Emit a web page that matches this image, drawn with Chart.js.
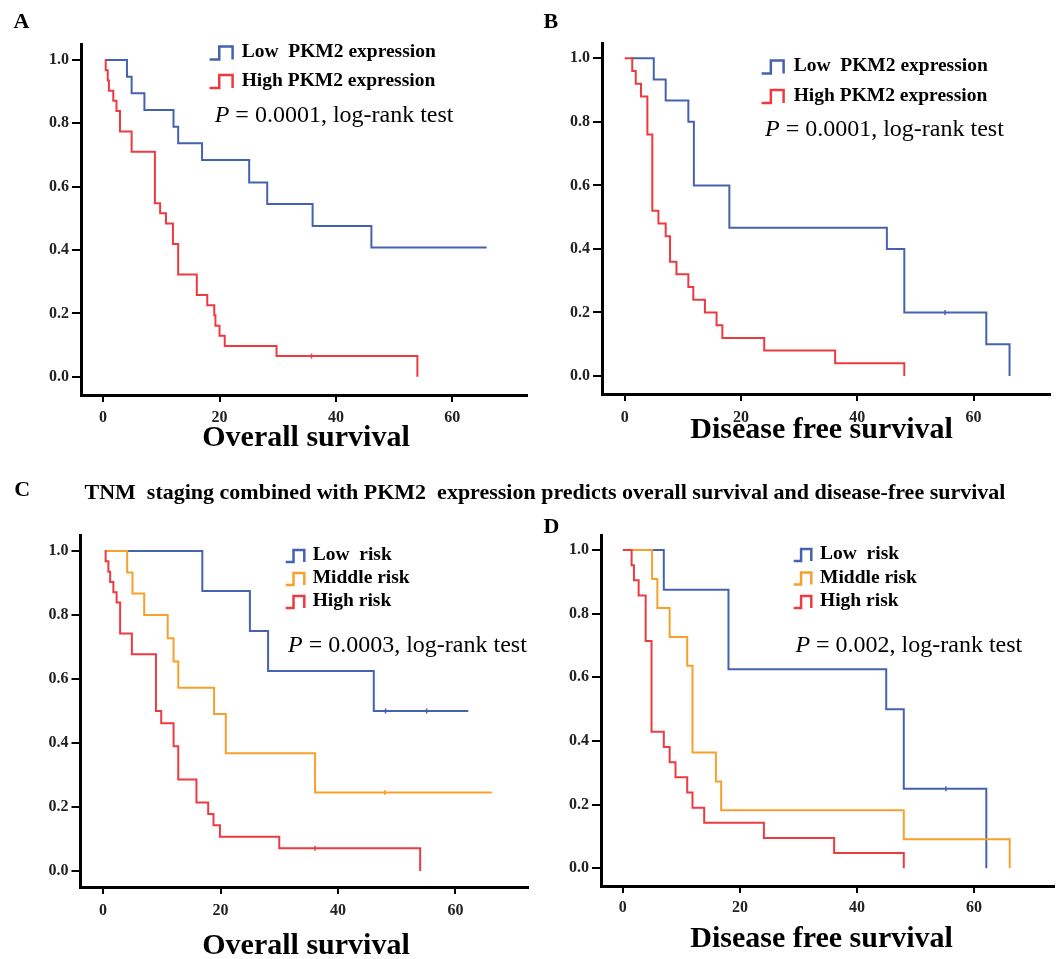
<!DOCTYPE html>
<html>
<head>
<meta charset="utf-8">
<script src="https://cdn.jsdelivr.net/npm/chart.js@4.4.3/dist/chart.umd.min.js"></script>
<style>
  html, body { margin: 0; padding: 0; background: #fff; }
  #page { position: relative; width: 1059px; height: 959px; overflow: hidden; }
  #page canvas { position: absolute; left: 0; top: 0; }
</style>
</head>
<body>
<div id="page">
  <canvas id="chartA" width="1059" height="959"></canvas>
  <canvas id="chartB" width="1059" height="959"></canvas>
  <canvas id="chartC" width="1059" height="959"></canvas>
  <canvas id="chartD" width="1059" height="959"></canvas>
</div>
<script>
const SERIF = '"Liberation Serif", "Times New Roman", serif'
const BLUE = '#4462ae'
const RED = '#ec3a41'
const ORANGE = '#f7a12c'

// Tick labels shared by the four panels.
const xTicks = [0, 20, 40, 60]
const yTicks = [0, 0.2, 0.4, 0.6, 0.8, 1.0]

// A: overall survival by PKM2 expression.
const aLowTime = [0.3, 4.1, 4.9, 7.1, 12.1, 12.9, 17.0, 25.1, 28.2, 36.0, 46.1, 65.9]
const aLowSurv = [1, 0.947, 0.895, 0.842, 0.789, 0.737, 0.684, 0.613, 0.545, 0.476, 0.408, 0.408]
const aHighTime = [0.33, 0.45, 0.8, 1.0, 1.75, 2.3, 2.9, 4.9, 8.9, 9.8, 10.8, 12.0, 12.9, 16.1, 17.9, 19.1, 19.3, 20.0, 20.9, 29.8, 54.0]
const aHighSurv = [1, 0.968, 0.935, 0.903, 0.871, 0.839, 0.774, 0.710, 0.548, 0.516, 0.484, 0.419, 0.323, 0.258, 0.226, 0.194, 0.161, 0.129, 0.097, 0.065, 0]
const aHighCensor = [35.8]

// B: disease free survival by PKM2 expression.
const bLowTime = [1.2, 5.0, 7.05, 10.95, 11.9, 18.0, 45.1, 48.1, 62.2, 66.2]
const bLowSurv = [1, 0.933, 0.867, 0.8, 0.6, 0.467, 0.4, 0.2, 0.1, 0]
const bLowCensor = [55.1]
const bHighTime = [0, 1.3, 1.9, 2.8, 3.9, 4.75, 5.8, 7.05, 7.8, 8.9, 10.95, 11.8, 13.8, 15.8, 16.8, 24.0, 36.2, 48.1]
const bHighSurv = [1, 0.96, 0.92, 0.88, 0.76, 0.52, 0.48, 0.44, 0.36, 0.32, 0.28, 0.24, 0.20, 0.16, 0.12, 0.08, 0.04, 0]

// C: overall survival by combined risk group.
const cLowTime = [0.3, 16.9, 25.0, 28.1, 46.1, 62.2]
const cLowSurv = [1, 0.875, 0.75, 0.625, 0.5, 0.5]
const cLowCensor = [48.1, 55.1]
const cMidTime = [0.32, 4.1, 5.0, 7.0, 11.0, 12.0, 12.8, 18.9, 20.9, 36.1, 66.2]
const cMidSurv = [1, 0.933, 0.867, 0.8, 0.727, 0.655, 0.573, 0.491, 0.368, 0.245, 0.245]
const cMidCensor = [48.0]
const cHighTime = [0.32, 0.43, 0.9, 1.2, 1.75, 2.3, 2.9, 4.9, 9.0, 9.9, 12.0, 12.8, 15.9, 17.9, 18.8, 19.9, 30.0, 54.0]
const cHighSurv = [1, 0.968, 0.935, 0.903, 0.871, 0.839, 0.742, 0.677, 0.5, 0.462, 0.39, 0.286, 0.214, 0.178, 0.143, 0.107, 0.071, 0]
const cHighCensor = [36.1]

// D: disease free survival by combined risk group.
const dLowTime = [0.3, 7.0, 18.05, 45.0, 48.0, 62.1]
const dLowSurv = [1, 0.875, 0.625, 0.5, 0.25, 0]
const dLowCensor = [55.2]
const dMidTime = [0, 5.0, 5.9, 8.0, 11.0, 11.9, 15.9, 16.8, 48.0, 66.1]
const dMidSurv = [1, 0.909, 0.818, 0.727, 0.636, 0.364, 0.273, 0.182, 0.091, 0]
const dHighTime = [0, 1.5, 1.9, 2.7, 3.9, 4.9, 7.0, 8.0, 9.0, 11.0, 11.9, 13.9, 24.1, 36.1, 48.0]
const dHighSurv = [1, 0.952, 0.905, 0.857, 0.714, 0.429, 0.381, 0.333, 0.286, 0.238, 0.19, 0.143, 0.095, 0.048, 0]

const mainTitle = 'TNM  staging combined with PKM2  expression predicts overall survival and disease-free survival'

// Step curve dataset, horizontal first then drop at each event time.
function curve(label, color, times, surv, order) {
  return {
    label,
    inLegend: true,
    showLine: true,
    stepped: 'before',
    borderColor: color,
    backgroundColor: color,
    borderWidth: 2,
    pointRadius: 0,
    fill: false,
    order,
    data: times.map((t, i) => ({ x: t, y: surv[i] }))
  }
}

// Censor ticks sit on the curve level at the censored time.
function censor(color, times, curveTimes, curveSurv) {
  return {
    showLine: false,
    pointStyle: 'line',
    rotation: 90,
    pointRadius: 2.5,
    borderWidth: 1.5,
    borderColor: color,
    order: -1,
    data: times.map(t => {
      let s = curveSurv[0]
      curveTimes.forEach((ct, i) => { if (ct <= t) s = curveSurv[i] })
      return { x: t, y: s }
    })
  }
}

function drawIcon(ctx, x, y, w, h, color) {
  const top = y - h / 2
  const bottom = y + h / 2
  ctx.strokeStyle = color
  ctx.lineWidth = 2.5
  ctx.beginPath()
  ctx.moveTo(x, bottom)
  ctx.lineTo(x + w * 0.42, bottom)
  ctx.lineTo(x + w * 0.42, top)
  ctx.lineTo(x + w, top)
  ctx.lineTo(x + w, bottom)
  ctx.stroke()
}

// Draws panel letter, legend, p value line and axis title.
const panelText = {
  id: 'panelText',
  afterDraw(chart, args, opts) {
    const ctx = chart.ctx
    ctx.save()
    ctx.fillStyle = '#000'
    ctx.textBaseline = 'middle'
    ctx.textAlign = 'left'

    ctx.font = `bold 22px ${SERIF}`
    ctx.fillText(opts.letter, opts.letterPos[0], opts.letterPos[1])

    if (opts.heading) {
      ctx.font = `bold 22px ${SERIF}`
      ctx.fillText(opts.heading.text, opts.heading.x, opts.heading.y)
    }

    const lg = opts.legend
    chart.data.datasets.filter(d => d.inLegend).forEach((d, i) => {
      const y = lg.y + i * lg.gap
      drawIcon(ctx, lg.x, y + 1, lg.iconW, lg.iconH, d.borderColor)
      ctx.font = `bold 19.5px ${SERIF}`
      ctx.fillStyle = '#000'
      ctx.fillText(d.label, lg.textX, y)
    })

    ctx.font = `italic 24px ${SERIF}`
    ctx.fillText('P', opts.pPos[0], opts.pPos[1])
    const w = ctx.measureText('P').width
    ctx.font = `24px ${SERIF}`
    ctx.fillText(` = ${opts.p}, log-rank test`, opts.pPos[0] + w, opts.pPos[1])

    ctx.font = `bold 30px ${SERIF}`
    ctx.textAlign = 'center'
    ctx.fillText(opts.title.text, opts.title.x, opts.title.y)
    ctx.restore()
  }
}

const Y_AXIS_W = 40
const X_AXIS_H = 30

const panels = [
  {
    id: 'chartA',
    area: { l: 81, t: 44, r: 527, b: 395 },
    anchor: { x0: 103.1, x60: 452.3, y0: 376.7, y1: 60 },
    xPad: 6,
    text: {
      letter: 'A', letterPos: [13.5, 22.5],
      legend: { x: 209.6, textX: 241.7, y: 52, gap: 28.5, iconW: 23, iconH: 13 },
      pPos: [214.7, 115.3], p: '0.0001',
      title: { text: 'Overall survival', x: 306, y: 438 }
    },
    datasets: [
      curve('Low  PKM2 expression', BLUE, aLowTime, aLowSurv, 2),
      curve('High PKM2 expression', RED, aHighTime, aHighSurv, 0),
      censor(RED, aHighCensor, aHighTime, aHighSurv)
    ]
  },
  {
    id: 'chartB',
    area: { l: 602, t: 43, r: 1050, b: 394 },
    anchor: { x0: 624.7, x60: 973.5, y0: 376, y1: 58.3 },
    xPad: 7.5,
    text: {
      letter: 'B', letterPos: [543.5, 22],
      legend: { x: 761.6, textX: 793.7, y: 66, gap: 29.5, iconW: 22, iconH: 13 },
      pPos: [765, 129.5], p: '0.0001',
      title: { text: 'Disease free survival', x: 821.6, y: 430 }
    },
    datasets: [
      curve('Low  PKM2 expression', BLUE, bLowTime, bLowSurv, 2),
      curve('High PKM2 expression', RED, bHighTime, bHighSurv, 0),
      censor(BLUE, bLowCensor, bLowTime, bLowSurv)
    ]
  },
  {
    id: 'chartC',
    area: { l: 80.5, t: 535, r: 528, b: 887 },
    anchor: { x0: 103.1, x60: 455.4, y0: 871, y1: 551 },
    xPad: 7.5,
    text: {
      letter: 'C', letterPos: [14.2, 490.8],
      heading: { text: mainTitle, x: 84.5, y: 493 },
      legend: { x: 285.7, textX: 312.7, y: 555, gap: 23, iconW: 18.6, iconH: 12 },
      pPos: [288, 646], p: '0.0003',
      title: { text: 'Overall survival', x: 306, y: 946.7 }
    },
    datasets: [
      curve('Low  risk', BLUE, cLowTime, cLowSurv, 2),
      curve('Middle risk', ORANGE, cMidTime, cMidSurv, 1),
      curve('High risk', RED, cHighTime, cHighSurv, 0),
      censor(BLUE, cLowCensor, cLowTime, cLowSurv),
      censor(ORANGE, cMidCensor, cMidTime, cMidSurv),
      censor(RED, cHighCensor, cHighTime, cHighSurv)
    ]
  },
  {
    id: 'chartD',
    area: { l: 601, t: 535, r: 1057, b: 886 },
    anchor: { x0: 623, x60: 976.9, y0: 868.3, y1: 550 },
    xPad: 5.5,
    text: {
      letter: 'D', letterPos: [543.5, 527.5],
      legend: { x: 793.7, textX: 820, y: 554, gap: 23.5, iconW: 17.6, iconH: 12 },
      pPos: [795.4, 646], p: '0.002',
      title: { text: 'Disease free survival', x: 821.6, y: 939 }
    },
    datasets: [
      curve('Low  risk', BLUE, dLowTime, dLowSurv, 2),
      curve('Middle risk', ORANGE, dMidTime, dMidSurv, 1),
      curve('High risk', RED, dHighTime, dHighSurv, 0),
      censor(BLUE, dLowCensor, dLowTime, dLowSurv)
    ]
  }
]

const tickFont = { family: SERIF, size: 16, weight: 'bold' }

panels.forEach(panel => {

  const { area, anchor } = panel

  // Axis ranges so that the tick anchors land on the reference pixels.
  const xUnit = (anchor.x60 - anchor.x0) / 60
  const yUnit = anchor.y0 - anchor.y1

  new Chart(document.getElementById(panel.id), {
    type: 'scatter',
    data: { datasets: panel.datasets },
    plugins: [panelText],
    options: {
      responsive: false,
      animation: false,
      layout: {
        padding: {
          left: area.l - Y_AXIS_W,
          top: area.t,
          right: 1059 - area.r,
          bottom: 959 - area.b - X_AXIS_H
        }
      },
      plugins: {
        legend: { display: false },
        tooltip: { enabled: false },
        panelText: panel.text
      },
      scales: {
        x: {
          type: 'linear',
          min: (area.l - anchor.x0) / xUnit,
          max: (area.r - anchor.x0) / xUnit,
          afterBuildTicks: s => { s.ticks = xTicks.map(v => ({ value: v })) },
          afterFit: s => { s.height = X_AXIS_H },
          border: { display: true, color: '#000', width: 3 },
          grid: { drawOnChartArea: false, drawTicks: true, tickLength: 7, color: '#000', lineWidth: 2 },
          ticks: { font: tickFont, color: '#222', padding: panel.xPad, maxRotation: 0 }
        },
        y: {
          type: 'linear',
          min: (anchor.y0 - area.b) / yUnit,
          max: (anchor.y0 - area.t) / yUnit,
          afterBuildTicks: s => { s.ticks = yTicks.map(v => ({ value: v })) },
          afterFit: s => { s.width = Y_AXIS_W },
          border: { display: true, color: '#000', width: 3 },
          grid: { drawOnChartArea: false, drawTicks: true, tickLength: 9, color: '#000', lineWidth: 2 },
          ticks: { font: tickFont, color: '#222', padding: 3, callback: v => v.toFixed(1) }
        }
      }
    }
  })
})
</script>
</body>
</html>
